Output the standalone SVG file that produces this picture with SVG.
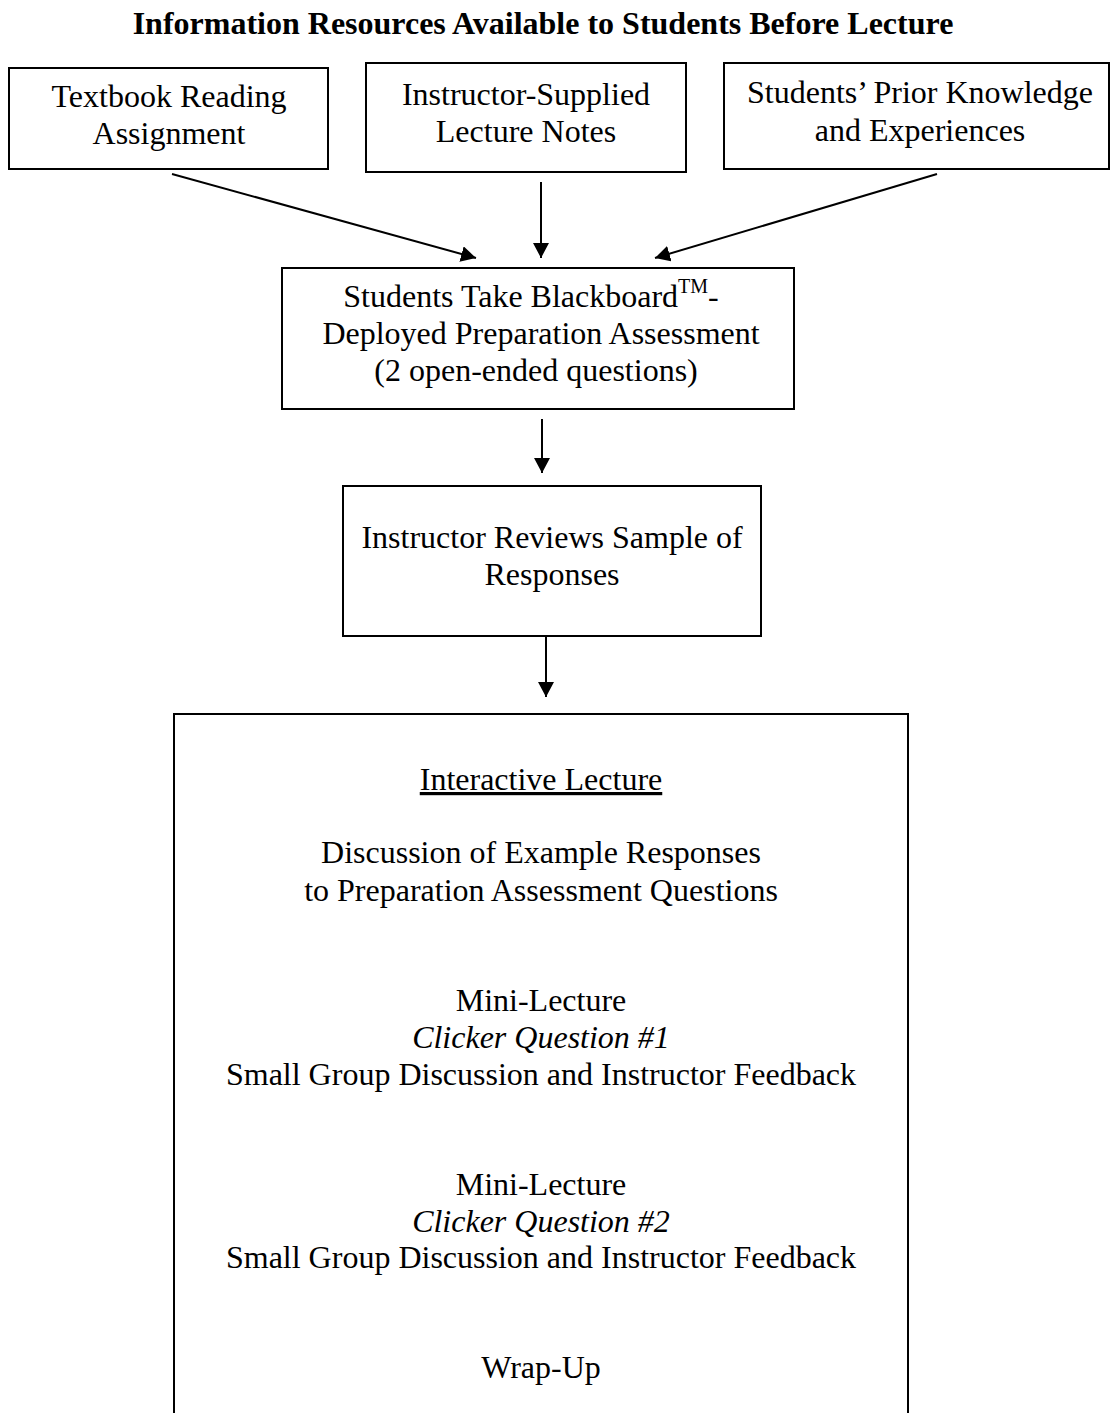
<svg xmlns="http://www.w3.org/2000/svg" width="1112" height="1413" viewBox="0 0 1112 1413">
<style>
.box{fill:none;stroke:#000;stroke-width:2}
.t{font-family:"Liberation Serif","Times New Roman",serif;font-size:32px;fill:#000;text-anchor:middle}
.title{font-weight:bold}
.it{font-style:italic}
.conn{stroke:#000;stroke-width:2;fill:none;marker-end:url(#ah)}
</style>
<defs>
<marker id="ah" markerWidth="16" markerHeight="16" viewBox="0 0 16 16" refX="15" refY="8" orient="auto" markerUnits="userSpaceOnUse">
<path d="M0,0 L15,8 L0,16 Z" fill="#000"/>
</marker>
</defs>
<rect width="1112" height="1413" fill="#fff"/>
<text class="t title" x="543" y="34">Information Resources Available to Students Before Lecture</text>

<g id="textbook">
<rect class="box" x="9" y="68" width="319" height="101"/>
<text class="t" x="169" y="107">Textbook Reading</text>
<text class="t" x="169" y="144">Assignment</text>
</g>

<g id="notes">
<rect class="box" x="366" y="63" width="320" height="109"/>
<text class="t" x="526" y="105">Instructor-Supplied</text>
<text class="t" x="526" y="142">Lecture Notes</text>
</g>

<g id="prior">
<rect class="box" x="724" y="63" width="385" height="106"/>
<text class="t" x="920" y="103">Students’ Prior Knowledge</text>
<text class="t" x="920" y="141">and Experiences</text>
</g>

<g id="assessment">
<rect class="box" x="282" y="268" width="512" height="141"/>
<text class="t" x="531" y="307">Students Take Blackboard<tspan font-size="20" dy="-14">TM</tspan><tspan dy="14">-</tspan></text>
<text class="t" x="541" y="344">Deployed Preparation Assessment</text>
<text class="t" x="536" y="381">(2 open-ended questions)</text>
</g>

<g id="review">
<rect class="box" x="343" y="486" width="418" height="150"/>
<text class="t" x="552" y="548">Instructor Reviews Sample of</text>
<text class="t" x="552" y="585">Responses</text>
</g>

<g id="lecture">
<path class="box" d="M174,1420 V714 H908 V1420"/>
<text class="t" x="541" y="790" text-decoration="underline">Interactive Lecture</text>
<text class="t" x="541" y="863">Discussion of Example Responses</text>
<text class="t" x="541" y="901">to Preparation Assessment Questions</text>
<text class="t" x="541" y="1011">Mini-Lecture</text>
<text class="t it" x="541" y="1048">Clicker Question #1</text>
<text class="t" x="541" y="1085">Small Group Discussion and Instructor Feedback</text>
<text class="t" x="541" y="1195">Mini-Lecture</text>
<text class="t it" x="541" y="1232">Clicker Question #2</text>
<text class="t" x="541" y="1268">Small Group Discussion and Instructor Feedback</text>
<text class="t" x="541" y="1378">Wrap-Up</text>
</g>

<g id="connectors">
<line class="conn" x1="172" y1="174" x2="476" y2="258"/>
<line class="conn" x1="541" y1="182" x2="541" y2="258"/>
<line class="conn" x1="937" y1="174" x2="655" y2="258"/>
<line class="conn" x1="542" y1="419" x2="542" y2="473"/>
<line class="conn" x1="546" y1="636" x2="546" y2="697"/>
</g>
</svg>
